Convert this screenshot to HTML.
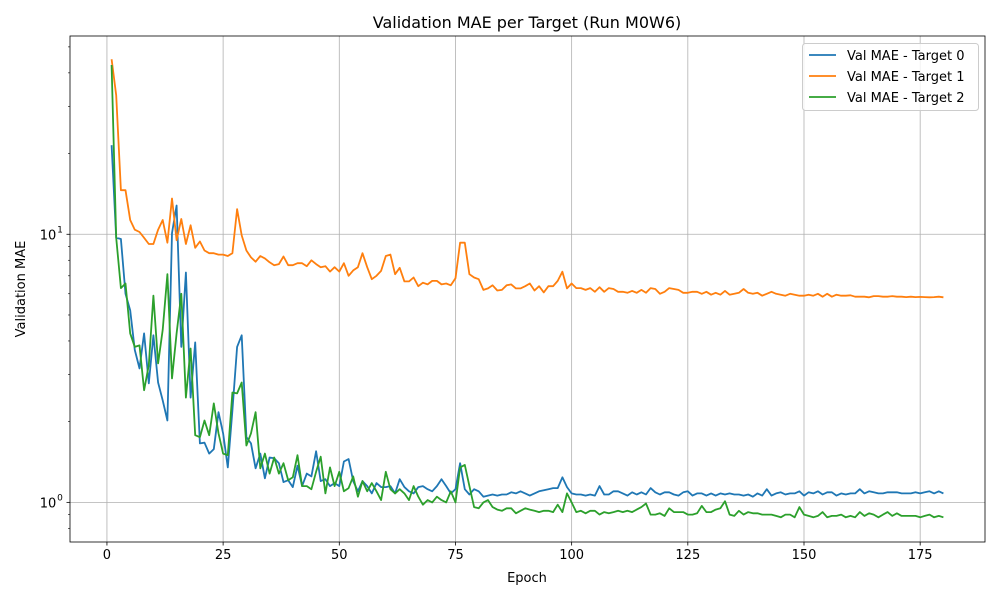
<!DOCTYPE html>
<html><head><meta charset="utf-8"><style>
body{margin:0;background:#fff;font-family:"Liberation Sans","DejaVu Sans",sans-serif}
svg text{font-family:"DejaVu Sans","Liberation Sans",sans-serif}
</style></head><body>
<svg id="chart" width="1000" height="600" xmlns="http://www.w3.org/2000/svg">
<rect width="1000" height="600" fill="#fff"/>
<g id="grid"></g><g id="series"></g><g id="axes"></g>
<text x="527" y="28" text-anchor="middle" font-size="16">Validation MAE per Target (Run M0W6)</text>
<text x="527" y="582" text-anchor="middle" font-size="13">Epoch</text>
<text transform="translate(25,289) rotate(-90)" text-anchor="middle" font-size="13">Validation MAE</text>
<g id="legend"></g>
</svg>
<script>
const seriesNames=["Val MAE - Target 0","Val MAE - Target 1","Val MAE - Target 2"];
const colors=["#1f77b4","#ff7f0e","#2ca02c"];
const xTicks=[0,25,50,75,100,125,150,175];
const yTicks=[1,10];
const yTickLabels=["0","1"];
const target0=[21.5,9.7,9.6,6.0,5.2,3.7,3.16,4.27,2.78,4.2,2.8,2.4,2.02,10.1,12.8,3.8,7.2,2.46,3.95,1.66,1.67,1.52,1.58,2.17,1.81,1.35,2.2,3.8,4.2,1.75,1.66,1.34,1.52,1.23,1.47,1.46,1.4,1.19,1.21,1.14,1.37,
1.15,1.28,1.25,1.55,1.2,1.22,1.15,1.18,1.15,1.42,1.45,1.2,1.1,1.2,1.15,1.08,1.18,1.14,1.14,1.15,1.08,1.22,1.14,1.1,1.08,1.14,1.15,1.12,1.1,1.15,1.22,1.15,1.08,1.12,1.4,1.12,1.07,1.12,1.1,1.05,1.06,1.07,1.06,1.07,1.07,1.09,1.08,1.1,1.08,1.06,1.08,1.1,1.11,1.12,1.13,1.13,1.24,1.14,1.08,
1.07,1.07,1.06,1.07,1.06,1.15,1.07,1.07,1.1,1.1,1.08,1.06,1.09,1.07,1.09,1.07,1.13,1.09,1.07,1.09,1.09,1.07,1.06,1.09,1.1,1.06,1.08,1.08,1.06,1.08,1.06,1.08,1.07,1.08,1.07,1.07,1.06,1.07,1.05,1.08,1.06,1.12,1.06,1.08,1.09,1.07,1.08,1.08,1.1,1.06,1.09,1.08,1.1,1.07,1.09,1.09,1.06,1.08,1.07,1.08,1.08,1.12,1.08,1.1,1.09,1.08,1.08,1.09,1.09,1.09,1.08,1.08,1.08,1.09,1.08,1.09,1.1,1.08,1.1,1.08];
const target1=[45,33,14.6,14.6,11.3,10.4,10.2,9.7,9.2,9.2,10.4,11.3,9.3,13.6,9.5,11.4,9.2,10.8,8.9,9.4,8.7,8.5,8.5,8.4,8.4,8.3,8.5,12.4,9.9,8.7,8.2,7.9,8.3,8.13,7.86,7.67,7.74,8.26,7.67,7.67,7.8,7.8,7.6,8.0,7.74,7.54,7.6,7.26,7.54,7.26,7.8,7.0,7.33,7.54,8.5,7.54,6.8,7.0,7.3,8.3,8.4,7.1,7.5,6.67,6.67,6.9,6.4,6.6,6.5,6.7,6.7,6.5,6.55,6.45,6.85,9.3,9.3,7.1,6.9,6.8,6.2,6.28,6.45,6.17,6.2,6.45,6.5,6.28,6.28,6.4,6.55,6.17,6.4,6.07,6.4,6.4,6.7,7.25,6.28,6.55,
6.3,6.3,6.2,6.3,6.1,6.35,6.1,6.3,6.25,6.1,6.1,6.05,6.15,6.05,6.2,6.05,6.3,6.25,6.0,6.1,6.3,6.25,6.2,6.05,6.05,6.1,6.1,6.0,6.1,5.95,6.05,5.95,6.15,5.95,6.0,6.05,6.25,6.05,6.0,6.05,5.9,6.0,6.1,6.0,5.95,5.9,6.0,5.95,5.9,5.9,5.95,5.9,6.0,5.85,6.0,5.85,5.95,5.9,5.9,5.92,5.85,5.85,5.85,5.82,5.88,5.88,5.85,5.85,5.88,5.85,5.85,5.83,5.85,5.83,5.84,5.83,5.82,5.83,5.85,5.82];
const target2=[42.8,9.7,6.3,6.55,4.27,3.8,3.85,2.62,3.25,5.9,3.3,4.4,7.1,2.9,4.27,6.0,2.46,3.75,1.78,1.75,2.02,1.78,2.34,1.81,1.52,1.5,2.57,2.55,2.8,1.63,1.81,2.17,1.34,1.52,1.28,1.47,1.28,1.4,1.21,1.24,1.5,
1.15,1.15,1.12,1.3,1.48,1.08,1.35,1.15,1.3,1.1,1.13,1.25,1.05,1.2,1.1,1.18,1.1,1.02,1.3,1.12,1.08,1.12,1.08,1.02,1.15,1.05,0.98,1.02,1.0,1.05,1.02,1.0,1.1,1.0,1.35,1.38,1.15,0.96,0.95,1.0,1.02,0.96,0.94,0.93,0.95,0.95,0.91,0.93,0.95,0.94,0.93,0.92,0.93,0.93,0.92,0.98,0.92,1.08,1.0,
0.92,0.93,0.91,0.93,0.93,0.9,0.92,0.91,0.92,0.93,0.92,0.93,0.92,0.94,0.96,0.99,0.9,0.9,0.91,0.89,0.95,0.92,0.92,0.92,0.9,0.9,0.91,0.97,0.92,0.92,0.94,0.95,1.01,0.9,0.89,0.93,0.9,0.92,0.91,0.91,0.9,0.9,0.9,0.89,0.88,0.9,0.9,0.88,0.96,0.9,0.89,0.88,0.89,0.92,0.88,0.89,0.89,0.9,0.88,0.89,0.88,0.92,0.89,0.91,0.9,0.88,0.9,0.92,0.89,0.91,0.89,0.89,0.89,0.89,0.88,0.89,0.9,0.88,0.89,0.88];
const allSeries=[target0,target1,target2];

const L=70,R=985,T=36,B=542;
const xMin=-7.95,xMax=188.95;
const logMin=Math.log10(0.7115),logMax=Math.log10(54.9);
const X=v=>L+(v-xMin)/(xMax-xMin)*(R-L);
const Y=v=>B-(Math.log10(v)-logMin)/(logMax-logMin)*(B-T);
const NS="http://www.w3.org/2000/svg";
function mk(tag,attrs,parent){const e=document.createElementNS(NS,tag);for(const k in attrs)e.setAttribute(k,attrs[k]);parent.appendChild(e);return e;}
const grid=document.getElementById('grid'),axes=document.getElementById('axes'),ser=document.getElementById('series'),leg=document.getElementById('legend');
xTicks.forEach(t=>{
  const g=mk('line',{x1:X(t),x2:X(t),y1:T,y2:B,stroke:'#b0b0b0','stroke-width':0.8},grid);
  
  
  mk('line',{x1:X(t),x2:X(t),y1:B,y2:B+3.5,stroke:'#000','stroke-width':0.8},axes);
  const tx=mk('text',{x:X(t),y:B+17,'text-anchor':'middle','font-size':13},axes);
  tx.textContent=t;
  
  
});
yTicks.forEach((t,i)=>{
  const g=mk('line',{x1:L,x2:R,y1:Y(t),y2:Y(t),stroke:'#b0b0b0','stroke-width':0.8},grid);
  
  
  mk('line',{x1:L-3.5,x2:L,y1:Y(t),y2:Y(t),stroke:'#000','stroke-width':0.8},axes);
  const tx=mk('text',{x:L-22,y:Y(t)+5,'text-anchor':'middle','font-size':13},axes);
  tx.textContent='10';
  
  
  const sup=mk('text',{x:L-10,y:Y(t)-2,'text-anchor':'middle','font-size':9},axes);
  sup.textContent=yTickLabels[i];
});
[0.8,0.9,2,3,4,5,6,7,8,9,20,30,40,50].forEach(t=>{
  mk('line',{x1:L-2,x2:L,y1:Y(t),y2:Y(t),stroke:'#000','stroke-width':0.6},axes);
});
allSeries.forEach((s,i)=>{
  const pts=s.map((v,j)=>X(j+1).toFixed(1)+','+Y(v).toFixed(1)).join(' ');
  const p=mk('polyline',{points:pts,fill:'none',stroke:colors[i],'stroke-width':1.8,'stroke-linejoin':'round'},ser);
  
  
});
mk('rect',{x:L,y:T,width:R-L,height:B-T,fill:'none',stroke:'#000','stroke-width':0.8},axes);
mk('rect',{x:802.5,y:43.5,width:176,height:67,rx:3,fill:'#fff','fill-opacity':0.8,stroke:'#ccc'},leg);
seriesNames.forEach((n,i)=>{
  const y=55+i*21;
  mk('line',{x1:809,x2:836,y1:y,y2:y,stroke:colors[i],'stroke-width':1.8},leg);
  const t=mk('text',{x:847,y:y+5,'font-size':13},leg);
  t.textContent=n;
  
  
});
</script>
</body></html>
